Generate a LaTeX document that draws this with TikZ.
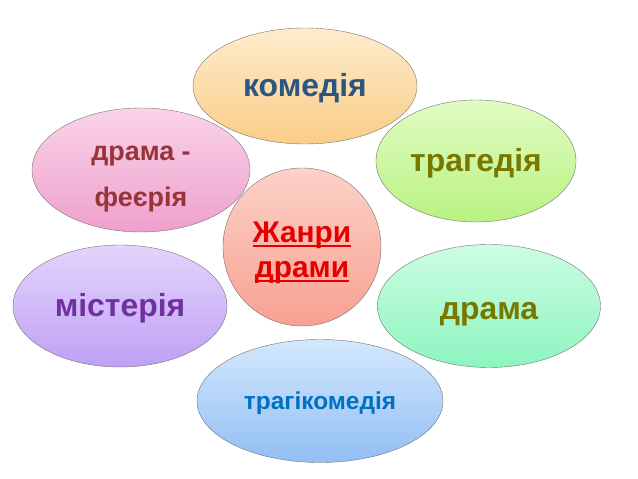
\documentclass[tikz,border=0pt]{standalone}
\usepackage{fontspec}
\setmainfont{Liberation Sans}
\usetikzlibrary{shapes.geometric}
\newcommand{\thickul}[1]{\setbox0\hbox{#1}\rlap{\rule[-4.5pt]{\wd0}{1.8pt}}\box0}
\definecolor{komtop}{RGB}{254,236,205}
\definecolor{kombot}{RGB}{250,205,135}
\definecolor{trgtop}{RGB}{225,252,195}
\definecolor{trgbot}{RGB}{185,242,130}
\definecolor{drmtop}{RGB}{205,252,228}
\definecolor{drmbot}{RGB}{140,245,190}
\definecolor{tktop}{RGB}{212,232,252}
\definecolor{tkbot}{RGB}{145,190,245}
\definecolor{mistop}{RGB}{228,212,252}
\definecolor{misbot}{RGB}{190,160,245}
\definecolor{fetop}{RGB}{250,212,232}
\definecolor{febot}{RGB}{238,160,205}
\definecolor{ctrtop}{RGB}{252,210,200}
\definecolor{ctrbot}{RGB}{248,160,145}
\definecolor{komtxt}{RGB}{44,85,128}
\definecolor{olive}{RGB}{120,120,0}
\definecolor{tktxt}{RGB}{0,112,192}
\definecolor{mistxt}{RGB}{112,48,160}
\definecolor{fetxt}{RGB}{150,52,58}
\tikzstyle{genre} = [ellipse, inner sep=0pt, align=center, draw=black!55, thin, font=\bfseries\fontsize{32}{46}\selectfont]
\tikzstyle{centre} = [circle, inner sep=0pt, align=center, minimum size=158bp, draw=black!55, thin, font=\bfseries\fontsize{30}{35}\selectfont]
\begin{document}
\begin{tikzpicture}[x=1bp, y=-1bp]
  \useasboundingbox (0,0) rectangle (638,479);
  \node (kom) [genre, minimum width=224bp, minimum height=116bp, top color=komtop, bottom color=kombot, text=komtxt] at (305,86) {\rule{0pt}{28bp}комедія};
  \node (trg) [genre, minimum width=200bp, minimum height=122bp, top color=trgtop, bottom color=trgbot, text=olive] at (476,161) {\rule{0pt}{28bp}трагедія};
  \node (fe) [genre, minimum width=218bp, minimum height=124bp, top color=fetop, bottom color=febot, text=fetxt, font=\bfseries\fontsize{27}{46}\selectfont] at (141,170) {\rule{0pt}{32bp}драма -\\феєрія};
  \node (zh) [centre, top color=ctrtop, bottom color=ctrbot, text=red!90!black] at (302,247) {\rule{0pt}{32bp}\thickul{Жанри}\\\thickul{драми}};
  \node (mis) [genre, minimum width=214bp, minimum height=122bp, top color=mistop, bottom color=misbot, text=mistxt] at (120,306) {\rule{0pt}{28bp}містерія};
  \node (drm) [genre, minimum width=223bp, minimum height=123bp, top color=drmtop, bottom color=drmbot, text=olive] at (489,306) {\rule{0pt}{34bp}драма};
  \node (tk) [genre, minimum width=246bp, minimum height=123bp, top color=tktop, bottom color=tkbot, text=tktxt, font=\bfseries\fontsize{24.5}{30}\selectfont] at (320,401) {\rule{0pt}{22bp}трагікомедія};
\end{tikzpicture}
\end{document}
